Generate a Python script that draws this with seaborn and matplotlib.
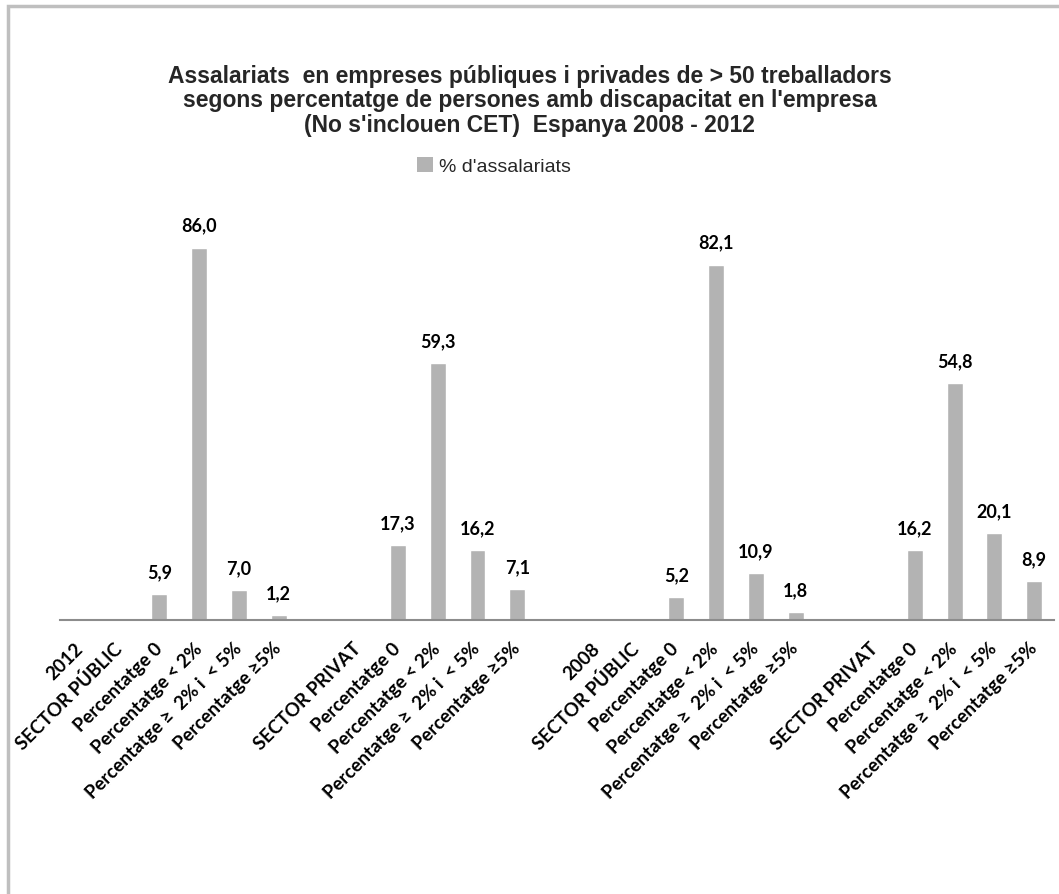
import pandas as pd
import numpy as np
import matplotlib.pyplot as plt
import seaborn as sns
from matplotlib.patches import Rectangle, Patch

# categories along the x axis (empty strings are the gaps between blocks)
labels = ["2012", "SECTOR PÚBLIC", "Percentatge 0", "Percentatge < 2%",
          "Percentatge ≥  2% i  < 5%", "Percentatge ≥5%", "",
          "SECTOR PRIVAT", "Percentatge 0", "Percentatge < 2%",
          "Percentatge ≥  2% i  < 5%", "Percentatge ≥5%", "",
          "2008", "SECTOR PÚBLIC", "Percentatge 0", "Percentatge < 2%",
          "Percentatge ≥  2% i  < 5%", "Percentatge ≥5%", "",
          "SECTOR PRIVAT", "Percentatge 0", "Percentatge < 2%",
          "Percentatge ≥  2% i  < 5%", "Percentatge ≥5%"]

# which slots carry a bar, and their values (% d'assalariats)
bar_slots = [2, 3, 4, 5, 8, 9, 10, 11, 15, 16, 17, 18, 21, 22, 23, 24]
values = [5.9, 86.0, 7.0, 1.2,
          17.3, 59.3, 16.2, 7.1,
          5.2, 82.1, 10.9, 1.8,
          16.2, 54.8, 20.1, 8.9]

series_name = "% d'assalariats"
title = ("Assalariats  en empreses públiques i privades de > 50 treballadors\n"
         "segons percentatge de persones amb discapacitat en l'empresa\n"
         "(No s'inclouen CET)  Espanya 2008 - 2012")

sns.set_theme(style="white")
narrow = ['Liberation Sans Narrow', 'Liberation Sans', 'DejaVu Sans']
calib = ['Lato', 'DejaVu Sans']
plt.rcParams['font.family'] = calib

slot_keys = [f"s{i}" for i in range(len(labels))]
df = pd.DataFrame({"slot": [slot_keys[i] for i in bar_slots], "value": values})

fig = plt.figure(figsize=(10.59, 8.95), dpi=100)
ax = fig.add_axes([60 / 1059, (895 - 621) / 895, (1054 - 60) / 1059, (621 - 188) / 895])

bar_color = '#B3B3B3'
sns.barplot(data=df, x="slot", y="value", order=slot_keys, color=bar_color,
            width=0.4, saturation=1, ax=ax, errorbar=None)

ax.set_ylim(0, 100)
ax.set_xlim(-0.5, len(labels) - 0.5)
ax.set_xlabel("")
ax.set_ylabel("")
ax.set_yticks([])

ax.set_xticks(range(len(labels)))
ax.set_xticklabels(labels, rotation=45, ha='right', va='center',
                   rotation_mode='anchor', fontsize=13.5, fontweight='bold',
                   family=calib, color='#000000')
ax.tick_params(axis='x', length=0, pad=18)

for sp in ['top', 'left', 'right']:
    ax.spines[sp].set_visible(False)
ax.spines['bottom'].set_color('#8C8C8C')
ax.spines['bottom'].set_linewidth(1.5)

for cont in ax.containers:
    ax.bar_label(cont, labels=[f"{v:.1f}".replace('.', ',') for v in cont.datavalues],
                 padding=10, fontsize=13, fontweight='bold', family=calib, color='#000000')

fig.text(0.5, 1 - 101 / 895, title, ha='center', va='center', fontsize=16.5,
         fontweight='bold', family=narrow, linespacing=1.1)

handle = Patch(facecolor=bar_color, edgecolor='none')
fig.legend([handle], [series_name], loc='center', bbox_to_anchor=(494 / 1059, 1 - 167 / 895),
           frameon=False, prop={'family': narrow, 'size': 14}, handlelength=0.8,
           handleheight=0.8, handletextpad=0.3)

# chart frame (only left and top visible in the picture)
fig.patches.append(Rectangle((8 / 1059, -0.1), 1.2, 1 - 7 / 895 + 0.1,
                             transform=fig.transFigure, fill=False,
                             edgecolor='#BFBFBF', linewidth=2.5))

fig.savefig("out.png", dpi=100)
